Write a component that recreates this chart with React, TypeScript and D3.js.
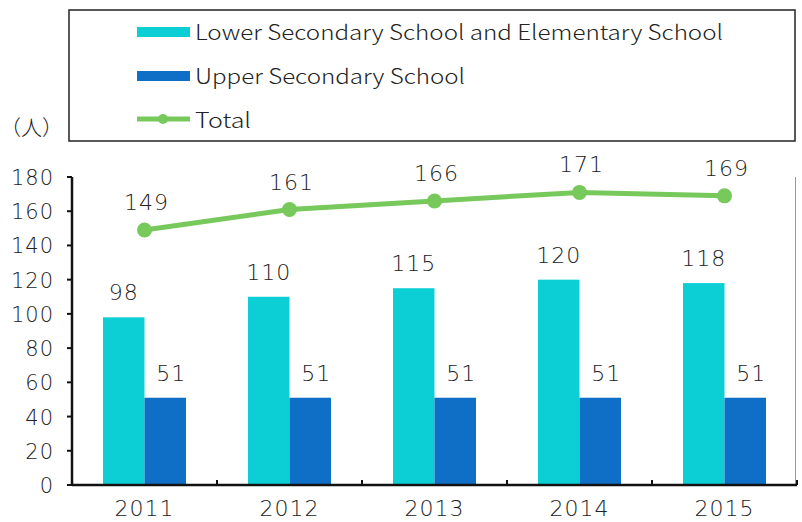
import React from "react";
import * as d3 from "d3";

const years = ["2011", "2012", "2013", "2014", "2015"];
const lowerElem = [98, 110, 115, 120, 118];
const upperSec = [51, 51, 51, 51, 51];
const total = [149, 161, 166, 171, 169];
const yTicks = [0, 20, 40, 60, 80, 100, 120, 140, 160, 180];

const CYAN = "#0ccfd6";
const BLUE = "#0f6fc6";
const GREEN = "#77c95c";
const NUM_FONT = "'DejaVu Sans', sans-serif";
const TXT_FONT = "'Noto Sans CJK JP', 'Noto Sans', sans-serif";

export default function App() {
    const width = 802;
    const height = 522;
    const left = 72;
    const right = 797;
    const top = 177;
    const bottom = 485;

    const x = d3.scaleBand().domain(years).range([left, right]);
    const y = d3.scaleLinear().domain([0, 180]).range([bottom, top]);
    const barW = 41.5;
    const sub = d3.scaleBand().domain(["lower", "upper"]).range([-barW, barW]);

    const cx = (yr: string) => x(yr)! + x.bandwidth() / 2;

    const line = d3.line<number>()
        .x((_, i) => cx(years[i]))
        .y(d => y(d));

    const numStyle = { fontFamily: NUM_FONT, fontWeight: 200, letterSpacing: 1 };

    return (
        <svg width={width} height={height} style={{ position: "absolute", left: 0, top: 0, display: "block" }}>
            <rect width={width} height={height} fill="#fff" />

            {/* legend box */}
            <rect x={69} y={10} width={726} height={131} fill="#fff" stroke="#222" strokeWidth={1.5} />
            <rect x={137} y={27} width={53} height={10} fill={CYAN} />
            <text x={195} y={40} fontFamily={TXT_FONT} fontSize={21} fontWeight={300} fill="#222" textLength={528} lengthAdjust="spacingAndGlyphs">
                Lower Secondary School and Elementary School
            </text>
            <rect x={137} y={71} width={53} height={10} fill={BLUE} />
            <text x={195} y={84} fontFamily={TXT_FONT} fontSize={21} fontWeight={300} fill="#222" textLength={270} lengthAdjust="spacingAndGlyphs">
                Upper Secondary School
            </text>
            <line x1={137} x2={190} y1={119} y2={119} stroke={GREEN} strokeWidth={5} />
            <circle cx={163} cy={119} r={5} fill={GREEN} />
            <text x={195} y={128} fontFamily={TXT_FONT} fontSize={21} fontWeight={300} fill="#222" textLength={56} lengthAdjust="spacingAndGlyphs">
                Total
            </text>

            <text x={0} y={135} fontFamily={TXT_FONT} fontSize={21} fontWeight={300} fill="#222">（人）</text>

            {/* right border */}
            <line x1={795.5} x2={795.5} y1={177} y2={bottom} stroke="#999" strokeWidth={1} />

            {/* bars */}
            {years.map((yr, i) => (
                <g key={yr}>
                    <rect x={cx(yr) + sub("lower")!} y={y(lowerElem[i])} width={sub.bandwidth()} height={bottom - y(lowerElem[i])} fill={CYAN} />
                    <rect x={cx(yr) + sub("upper")!} y={y(upperSec[i])} width={sub.bandwidth()} height={bottom - y(upperSec[i])} fill={BLUE} />
                    <text x={cx(yr) + sub("lower")! + sub.bandwidth() / 2} y={y(lowerElem[i]) - 17} textAnchor="middle" fontSize={22} fill="#222" style={numStyle}>
                        {lowerElem[i]}
                    </text>
                    <text x={cx(yr) + sub("upper")! + sub.bandwidth() / 2 + 6} y={y(upperSec[i]) - 17} textAnchor="middle" fontSize={22} fill="#222" style={numStyle}>
                        {upperSec[i]}
                    </text>
                </g>
            ))}

            {/* total line */}
            <path d={line(total)!} fill="none" stroke={GREEN} strokeWidth={5} />
            {years.map((yr, i) => (
                <g key={"t" + yr}>
                    <circle cx={cx(yr)} cy={y(total[i])} r={7.5} fill={GREEN} />
                    <text x={cx(yr) + 2} y={y(total[i]) - 20} textAnchor="middle" fontSize={22} fill="#222" style={numStyle}>
                        {total[i]}
                    </text>
                </g>
            ))}

            {/* y axis */}
            <line x1={left} x2={left} y1={top} y2={bottom} stroke="#111" strokeWidth={2.5} />
            {yTicks.map(t => (
                <g key={t}>
                    <line x1={left - 5} x2={left} y1={y(t)} y2={y(t)} stroke="#111" strokeWidth={2} />
                    <text x={54} y={y(t) + 8} textAnchor="end" fontSize={21} fill="#222" style={numStyle}>
                        {t}
                    </text>
                </g>
            ))}

            {/* x axis */}
            <line x1={left} x2={right} y1={bottom} y2={bottom} stroke="#111" strokeWidth={2.5} />
            {years.map(yr => (
                <g key={"x" + yr}>
                    <line x1={x(yr)! + x.bandwidth()} x2={x(yr)! + x.bandwidth()} y1={bottom} y2={bottom - 5} stroke="#111" strokeWidth={2} />
                    <text x={cx(yr)} y={516} textAnchor="middle" fontSize={22} fill="#222" style={numStyle}>
                        {yr}
                    </text>
                </g>
            ))}
        </svg>
    );
}
